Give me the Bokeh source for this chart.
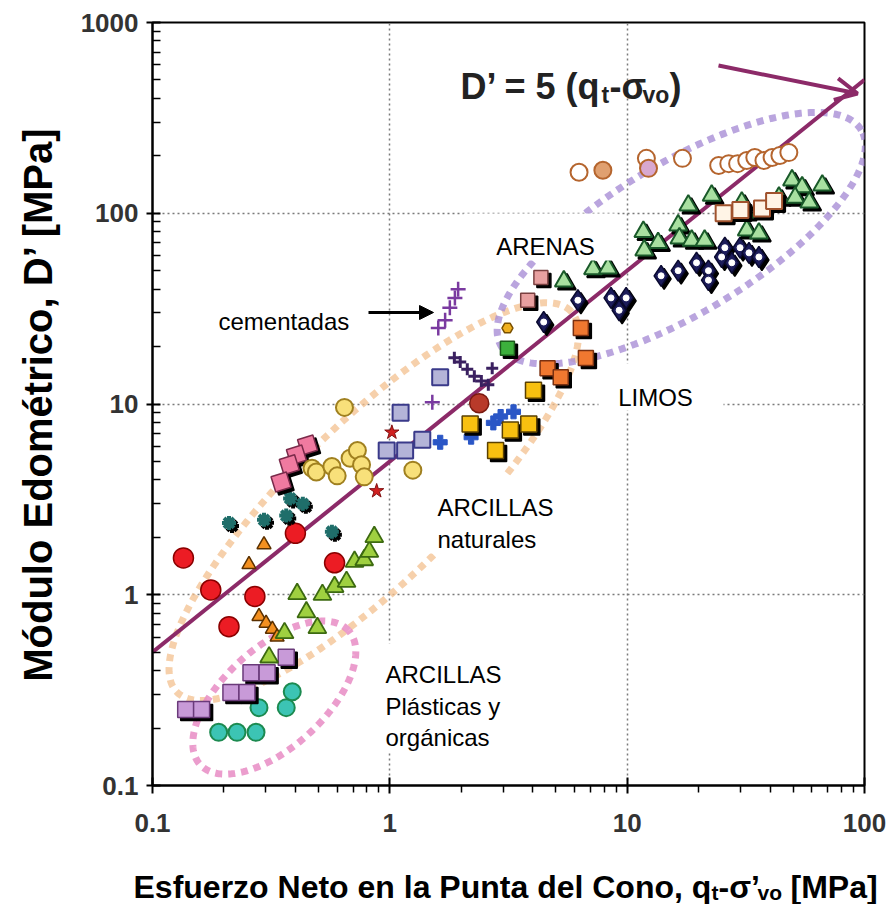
import numpy as np
from bokeh.plotting import figure
from bokeh.layouts import column
from bokeh.models import (FixedTicker, CustomJSTickFormatter, Label, BoxAnnotation,
                          Arrow, OpenHead, NormalHead)
from bokeh.embed import file_html
from bokeh.resources import INLINE

# ---------------- data ----------------
x_major = [0.1, 1, 10, 100]
y_major = [0.1, 1, 10, 100, 1000]
minor_mult = [2, 3, 4, 5, 6, 7, 8, 9]

trend_q = [0.1, 100]
trend_factor = 5

red_circ_x = [0.135, 0.176, 0.21, 0.27, 0.40, 0.585]
red_circ_y = [1.56, 1.06, 0.68, 0.98, 2.1, 1.47]
darkred_circ_x = [2.38]
darkred_circ_y = [10.1]
teal_star_x = [0.21, 0.295, 0.366, 0.38, 0.43, 0.57]
teal_star_y = [2.38, 2.47, 2.6, 3.2, 3.0, 2.14]
orange_tri_x = [0.255, 0.295, 0.281, 0.301, 0.32, 0.335]
orange_tri_y = [1.44, 1.83, 0.77, 0.71, 0.66, 0.60]
lime_tri_x = [0.407, 0.445, 0.495, 0.52, 0.585, 0.657, 0.71, 0.78, 0.82, 0.86, 0.31, 0.36]
lime_tri_y = [1.01, 0.81, 0.67, 1.0, 1.10, 1.17, 1.49, 1.52, 1.68, 2.01, 0.47, 0.63]
lilac_sq_x = [0.138, 0.161, 0.214, 0.25, 0.26, 0.304, 0.366]
lilac_sq_y = [0.25, 0.25, 0.307, 0.307, 0.39, 0.39, 0.47]
pink_dia_x = [0.45, 0.404, 0.377, 0.348]
pink_dia_y = [6.1, 5.4, 4.8, 3.9]
teal_circ_x = [0.19, 0.227, 0.273, 0.281, 0.366, 0.388]
teal_circ_y = [0.19, 0.19, 0.19, 0.256, 0.256, 0.31]
yellow_circ_x = [0.644, 0.47, 0.49, 0.57, 0.60, 0.68, 0.73, 0.76, 0.78, 1.25]
yellow_circ_y = [9.6, 4.6, 4.4, 4.7, 4.2, 5.2, 5.7, 4.8, 4.15, 4.5]
lav_sq_x = [1.63, 1.11, 0.97, 1.16, 1.37]
lav_sq_y = [13.8, 9.0, 5.7, 5.7, 6.5]
blue_plus_x = [1.63, 2.2, 2.73, 2.93, 3.32]
blue_plus_y = [6.3, 6.7, 7.96, 8.6, 9.1]
red_star_x = [1.02, 0.88]
red_star_y = [7.1, 3.5]
gold_sq_x = [2.18, 3.22, 3.85, 2.79, 4.03]
gold_sq_y = [7.85, 7.3, 7.85, 5.7, 11.8]
orred_sq_x = [4.62, 5.25, 6.38, 6.7]
orred_sq_y = [15.4, 13.8, 25, 17.4]
rose_sq_x = [4.33, 3.81]
rose_sq_y = [46, 35]
green_sq_x = [3.13]
green_sq_y = [19.6]
gold_mark_x = [3.13]
gold_mark_y = [25]
cem_plus_x = [1.94, 1.88, 1.79, 1.71, 1.6, 1.51]
cem_plus_y = [40, 36, 32, 27.5, 25, 10.2]
dpurple_plus_x = [1.87, 1.98, 2.12, 2.27, 2.43, 2.6, 2.7]
dpurple_plus_y = [17.5, 16.6, 15.2, 14, 13.2, 12.6, 15.4]
navy_x = [4.45, 6.2, 8.55, 9.9, 9.25, 13.9, 16.4, 19.6, 22, 22, 25, 27.6, 29.9, 32.6, 35.9, 25.8]
navy_y = [26.9, 35, 36, 36, 31, 47, 50, 55, 50, 44.6, 59, 55, 66, 62, 59, 66]
green_tri_x = [5.41, 7.18, 8.3, 11.7, 11.8, 13.5, 16.4, 16.6, 18.7, 21.2, 18.1, 22.7, 30.4, 31.3,
               31.9, 35.9, 43.6, 49.5, 54.6, 51, 58.5, 66.4]
green_tri_y = [44, 51, 51.5, 80, 64, 70, 86.5, 74, 72, 72, 110, 124, 114, 101,
               81.5, 78.5, 121, 149, 137, 121, 114, 140]
cream_sq_x = [25.5, 30, 37, 41.6]
cream_sq_y = [100, 104, 106, 116]
brown_open_x = [6.27, 12.05, 17.1, 24.3, 26.8, 29.2, 31.9, 34.5, 37.7, 40.8, 44, 48]
brown_open_y = [164, 194, 194, 178, 182, 182, 189, 196, 189, 196, 201, 208]
brown_fill_x = [7.9]
brown_fill_y = [168]
mauve_fill_x = [12.3]
mauve_fill_y = [172]

# zones (ellipses in log space): centre x, centre y, semi-axes (px), angle (deg)
zone_plastic = (0.326, 0.289, 100, 50, 42)
zone_natural = (0.856, 3.08, 274, 80, 44)
zone_sand = (16.9, 74.0, 210, 75, 31)

# ---------------- layout ----------------
W, H = 893, 904
H2 = 50                     # strip under the chart holding the x title
H1 = H - H2
FL, FR, FT, FB = 152, 29, 22, 69
FW = W - FL - FR
FH = H1 - FT - FB
PDX = FW / 3.0   # px per decade x
PDY = FH / 4.0   # px per decade y
FONT = "Liberation Sans"
LINE_C = "#8c2a68"


def fx(px):
    return px - FL


def fy(py):
    return (H1 - FB) - py


def shadow(xs, ys, dx=3, dy=3):
    return ([v * 10 ** (dx / PDX) for v in xs], [v * 10 ** (-dy / PDY) for v in ys])


def ellipse(zone, n=260):
    cx, cy, a, b, ang = zone
    t = np.linspace(0, 2 * np.pi, n)
    th = np.radians(ang)
    du = a * np.cos(t) * np.cos(th) - b * np.sin(t) * np.sin(th)
    dv = a * np.cos(t) * np.sin(th) + b * np.sin(t) * np.cos(th)
    return cx * 10 ** (du / PDX), cy * 10 ** (dv / PDY)


p = figure(width=W, height=H1, x_axis_type="log", y_axis_type="log",
           x_range=(0.1, 100), y_range=(0.1, 1000), title=None,
           output_backend="svg", toolbar_location=None,
           min_border_left=FL, min_border_right=FR, min_border_top=FT, min_border_bottom=FB)
p.frame_align = False
p.background_fill_color = "white"
p.border_fill_color = "white"
p.outline_line_color = "black"
p.outline_line_width = 2

x_minor = [m * d for d in x_major[:-1] for m in minor_mult]
y_minor = [m * d for d in y_major[:-1] for m in minor_mult]
p.xaxis.ticker = FixedTicker(ticks=x_major, minor_ticks=x_minor)
p.yaxis.ticker = FixedTicker(ticks=y_major, minor_ticks=y_minor)
fmt = "return tick.toString();"
p.xaxis.formatter = CustomJSTickFormatter(code=fmt)
p.yaxis.formatter = CustomJSTickFormatter(code=fmt)

for ax in (p.xaxis[0], p.yaxis[0]):
    ax.axis_line_width = 2
    ax.axis_line_color = "black"
    ax.major_tick_line_width = 2
    ax.minor_tick_line_width = 1.5
    ax.major_label_text_font = FONT
    ax.major_label_text_font_style = "bold"
    ax.major_label_text_font_size = "26px"
    ax.major_label_text_color = "#333333"

p.xaxis.major_tick_in = 8
p.xaxis.major_tick_out = 8
p.xaxis.minor_tick_in = 0
p.xaxis.minor_tick_out = 7
p.xaxis.major_label_standoff = 20
p.yaxis.major_tick_in = 8
p.yaxis.major_tick_out = 6
p.yaxis.minor_tick_in = 8
p.yaxis.minor_tick_out = 0
p.yaxis.major_label_standoff = 8

p.yaxis.axis_label = "Módulo Edométrico, D’ [MPa]"
p.yaxis.axis_label_text_font = FONT
p.yaxis.axis_label_text_font_style = "bold"
p.yaxis.axis_label_text_font_size = "40px"
p.yaxis.axis_label_text_color = "black"
p.yaxis.axis_label_standoff = 18

for g in (p.xgrid[0], p.ygrid[0]):
    g.grid_line_color = "#7a7a7a"
    g.grid_line_dash = "2 3"
    g.grid_line_width = 1.5

# zones
for zone, col, alpha in ((zone_natural, "#f3c08f", 0.75), (zone_sand, "#a98fd6", 0.8),
                         (zone_plastic, "#e88cc4", 0.85)):
    ex, ey = ellipse(zone)
    p.line(ex, ey, line_color=col, line_width=7, line_dash="7 6", line_alpha=alpha,
           line_cap="butt")

# trend line D' = 5 q
p.line(trend_q, [trend_factor * q for q in trend_q], line_color=LINE_C, line_width=4)


def pts(xs, ys, marker, size, fill, line, lw=1.5, shade=False, angle=0.0, alpha=1.0):
    if shade:
        sx, sy = shadow(xs, ys)
        p.scatter(sx, sy, marker=marker, size=size, fill_color="black", line_color="black",
                  line_width=lw, angle=angle)
    p.scatter(xs, ys, marker=marker, size=size, fill_color=fill, line_color=line,
              line_width=lw, angle=angle, fill_alpha=alpha)


pts(teal_circ_x, teal_circ_y, "circle", 17, "#3cc4b4", "#1c8a50", 2)
pts(lilac_sq_x, lilac_sq_y, "square", 16, "#c89ad8", "#6a3a7a", 1.5, shade=True)
pts(orange_tri_x, orange_tri_y, "triangle", 14, "#f39020", "#5a3000", 1.5)
pts(lime_tri_x, lime_tri_y, "triangle", 18, "#9fd040", "#3c6a10", 1.8)
pts(red_circ_x, red_circ_y, "circle", 20, "#ec1c24", "#8b0000", 1.5)
pts(darkred_circ_x, darkred_circ_y, "circle", 19, "#b83a2a", "#7a1a10", 1.5)
sx, sy = shadow(teal_star_x, teal_star_y)
p.scatter(sx, sy, marker="asterisk", size=14, line_color="black", line_width=4)
p.scatter(teal_star_x, teal_star_y, marker="asterisk", size=14, line_color="#1f6e6a", line_width=4)
pts(pink_dia_x, pink_dia_y, "square", 16, "#f07aa0", "#7a2a4a", 1.5, shade=True, angle=0.3)
pts(yellow_circ_x, yellow_circ_y, "circle", 17, "#f8e07a", "#a08020", 2)
pts(lav_sq_x, lav_sq_y, "square", 16, "#b4b4d8", "#3a3a8a", 2)
pts(blue_plus_x, blue_plus_y, "plus", 14, "#2a56c6", "#2a56c6", 1)
pts(red_star_x, red_star_y, "star", 15, "#d02020", "#801010", 1)
pts(gold_sq_x, gold_sq_y, "square", 16, "#f8c010", "#5a4000", 1.5, shade=True)
pts(orred_sq_x, orred_sq_y, "square", 15, "#f07830", "#7a3010", 1.5, shade=True)
pts(rose_sq_x, rose_sq_y, "square", 14, "#e8a0a0", "#7a4040", 1.5, shade=True)
pts(green_sq_x, green_sq_y, "square", 14, "#3cb03c", "#1a5a1a", 1.5, shade=True)
pts(gold_mark_x, gold_mark_y, "hex", 11, "#f0b020", "#7a5000", 1.5)
p.scatter(cem_plus_x, cem_plus_y, marker="cross", size=15, line_color="#7a3aa0", line_width=2.5)
p.scatter(dpurple_plus_x, dpurple_plus_y, marker="cross", size=12, line_color="#3a2060",
          line_width=3)
pts(navy_x, navy_y, "diamond", 21, "#1c1c5a", "#0a0a30", 1.5, shade=True)
p.scatter(navy_x, navy_y, marker="circle", size=6, fill_color="white", line_color="white")
pts(green_tri_x, green_tri_y, "triangle", 18, "#a8e0a0", "#1a5a2a", 2, shade=True)
pts(cream_sq_x, cream_sq_y, "square", 16, "#fff4e6", "#a0522d", 2, shade=True)
pts(brown_open_x, brown_open_y, "circle", 17, "white", "#b5652e", 2)
pts(brown_fill_x, brown_fill_y, "circle", 17, "#e0a070", "#b5652e", 2)
pts(mauve_fill_x, mauve_fill_y, "circle", 17, "#d8a8d0", "#b5652e", 2)

# white label boxes (reference pixel rectangles)
boxes = [(463, 213, 617, 260), (598, 363, 723, 410), (420, 475, 582, 553), (380, 643, 502, 752)]


def px2x(px):
    return 10 ** ((px - FL) / PDX - 1)


def py2y(py):
    return 10 ** (3 - (py - FT) / PDY)


for l, t, r, b in boxes:
    p.add_layout(BoxAnnotation(left=px2x(l), right=px2x(r), top=py2y(t), bottom=py2y(b),
                               fill_color="white", fill_alpha=1.0, line_alpha=0))


def lab(fig, text, sx, sy, size, bold=False, align="left", color="black"):
    fig.add_layout(Label(x=sx, y=sy, x_units="screen", y_units="screen", text=text,
                         text_font=FONT, text_font_size=f"{size}px",
                         text_font_style="bold" if bold else "normal",
                         text_align=align, text_baseline="alphabetic", text_color=color))


def plab(text, px, py, size, bold=False, align="left", color="black"):
    lab(p, text, fx(px), fy(py), size, bold, align, color)


# zone labels
plab("ARENAS", 545, 246, 24, align="center")
plab("LIMOS", 655, 397, 24, align="center")
plab("cementadas", 218, 321, 24)
plab("ARCILLAS", 437, 507, 24)
plab("naturales", 437, 539, 24)
plab("ARCILLAS", 385, 674, 24)
plab("Plásticas y", 385, 706, 24)
plab("orgánicas", 385, 737, 24)

# formula label
FC = "#222222"
plab("D’ = 5 (q", 460, 86, 36, bold=True, color=FC)
plab("t", 601, 94, 23, bold=True, color=FC)
plab("-σ", 609, 86, 36, bold=True, color=FC)
plab("vo", 642, 94, 23, bold=True, color=FC)
plab(")", 669, 86, 36, bold=True, color=FC)

# arrows
p.add_layout(Arrow(x_start=fx(718), y_start=fy(65), x_end=fx(857), y_end=fy(93),
                   start_units="screen", end_units="screen",
                   line_color=LINE_C, line_width=4,
                   end=OpenHead(size=22, line_color=LINE_C, line_width=4)))
p.add_layout(Arrow(x_start=fx(368), y_start=fy(312), x_end=fx(433), y_end=fy(312),
                   start_units="screen", end_units="screen",
                   line_color="black", line_width=3,
                   end=NormalHead(size=14, fill_color="black", line_color="black")))

# ---------------- x title strip ----------------
p2 = figure(width=W, height=H2, x_range=(0, W), y_range=(0, H2), title=None,
            output_backend="svg", toolbar_location=None, min_border=0)
p2.frame_align = False
p2.axis.visible = False
p2.grid.visible = False
p2.outline_line_color = None
p2.background_fill_color = "white"
p2.border_fill_color = "white"

BASE = H - 886   # baseline measured up from the bottom of the strip
lab(p2, "Esfuerzo Neto en la Punta del Cono, q", 133, BASE, 32, bold=True)
lab(p2, "t", 711, BASE - 6, 21, bold=True)
lab(p2, "-σ’", 718, BASE, 32, bold=True)
lab(p2, "vo", 757, BASE - 6, 21, bold=True)
lab(p2, "[MPa]", 790, BASE, 32, bold=True)

layout = column(p, p2, spacing=0)
open("out.html", "w").write(file_html(layout, INLINE))
